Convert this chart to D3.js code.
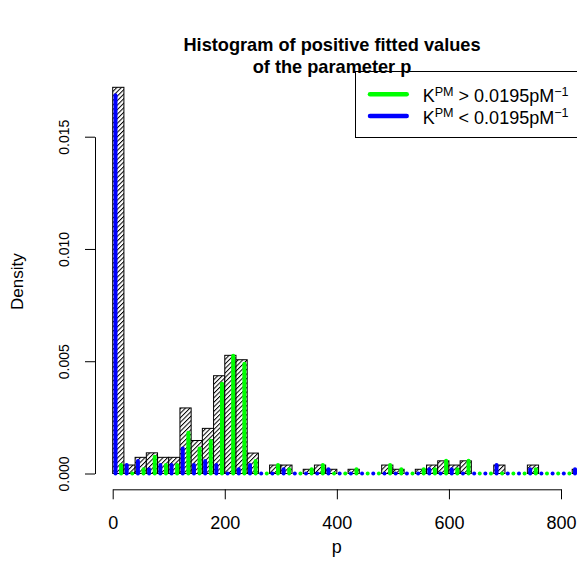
<!DOCTYPE html>
<html>
<head>
<meta charset="utf-8">
<script src="https://cdn.jsdelivr.net/npm/d3@7"></script>
<style>
  html, body { margin: 0; padding: 0; background: #fff; }
  svg { display: block; }
  text { font-family: "Liberation Sans", Arial, Helvetica, sans-serif; fill: #000; }
</style>
</head>
<body>
<svg id="chart" width="577" height="563"></svg>
<script>
// ---- data (bins of width 20 starting at p = 0) ----
const binWidth = 20;
const binStarts = d3.range(0, 840, 20); // 42 bins: 0..820
const totalDensity = [0.01720, 0.000378, 0.000720, 0.000920, 0.000720, 0.000720, 0.002920, 0.001470, 0.002010, 0.004355,
  0.005263, 0.005067, 0.000910, 0, 0.000376, 0.000376, 0, 0.000188, 0.000376, 0.000188,
  0, 0.000188, 0, 0, 0.000376, 0.000188, 0, 0.000188, 0.000376, 0.000564,
  0.000376, 0.000564, 0, 0, 0.000376, 0, 0, 0.000376, 0, 0, 0, 0.000188];
const greenDensity = [0.000376, 0, 0.000188, 0.000746, 0.000376, 0.000376, 0.001814, 0.001115, 0.001458, 0.003996,
  0.005243, 0.004886, 0.000554, 0, 0.000376, 0.000188, 0, 0.000188, 0.000376, 0,
  0, 0.000188, 0, 0, 0.000376, 0.000188, 0, 0.000188, 0.000188, 0.000564,
  0.000188, 0.000564, 0, 0, 0, 0, 0, 0.000188, 0, 0, 0, 0];
const blueDensity = [0.01685, 0.000376, 0.000554, 0.000188, 0.000376, 0.000376, 0.001115, 0.000376, 0.000554, 0.000376,
  0, 0.000188, 0.000376, 0, 0, 0.000188, 0, 0, 0, 0.000188,
  0, 0, 0, 0, 0, 0, 0, 0, 0.000188, 0,
  0.000188, 0, 0, 0, 0.000376, 0, 0, 0.000188, 0, 0, 0, 0.000188];
const xTicks = [0, 200, 400, 600, 800];
const yTicks = [0, 0.005, 0.010, 0.015];
const titleLines = ["Histogram of positive fitted values", "of the parameter p"];
const legendItems = [
  {color: "#00FF00", op: ">"},
  {color: "#0000FF", op: "<"}
];

// ---- layout ----
const svg = d3.select("#chart");
const x = d3.scaleLinear().domain([0, 800]).range([112.7, 561]);
const y = d3.scaleLinear().domain([0, 0.015]).range([473.5, 136.7]);

// hatch pattern
const defs = svg.append("defs");
const pat = defs.append("pattern")
  .attr("id", "hatch").attr("patternUnits", "userSpaceOnUse")
  .attr("width", 3.2).attr("height", 10)
  .attr("patternTransform", "rotate(45)");
pat.append("rect").attr("width", 3.2).attr("height", 10).attr("fill", "#fff");
pat.append("line").attr("x1", 0.5).attr("y1", 0).attr("x2", 0.5).attr("y2", 10)
  .attr("stroke", "#000").attr("stroke-width", 1);

// title
svg.append("g").selectAll("text").data(titleLines).join("text")
  .attr("x", 332).attr("y", (d, i) => 51 + i * 21.5)
  .attr("text-anchor", "middle").attr("font-size", 18.2).attr("font-weight", "bold")
  .text(d => d);

// histogram bars
svg.append("g").selectAll("rect")
  .data(binStarts.map((s, i) => ({s, d: totalDensity[i]})))
  .join("rect")
  .attr("x", d => x(d.s))
  .attr("y", d => y(d.d))
  .attr("width", d => x(d.s + binWidth) - x(d.s))
  .attr("height", d => y(0) - y(d.d))
  .attr("fill", "url(#hatch)")
  .attr("stroke", "#000").attr("stroke-width", 1);

// coloured vertical lines (type = "h")
function drawLines(vals, offset, color) {
  svg.append("g").selectAll("line")
    .data(binStarts.map((s, i) => ({p: s + offset, d: vals[i]})))
    .join("line")
    .attr("x1", d => x(d.p)).attr("x2", d => x(d.p))
    .attr("y1", y(0)).attr("y2", d => y(d.d))
    .attr("stroke", color).attr("stroke-width", 4)
    .attr("stroke-linecap", "round");
}
drawLines(blueDensity, 5, "#0000FF");
drawLines(greenDensity, 15, "#00FF00");

// x axis
const xAxis = d3.axisBottom(x).tickValues(xTicks).tickSize(10).tickSizeOuter(0).tickPadding(6);
const gx = svg.append("g").attr("transform", "translate(0,489.3)").call(xAxis);
gx.selectAll("text").attr("font-size", 18).attr("dy", null).attr("y", 40.2);
gx.selectAll("path,line").attr("stroke", "#000");

// y axis
const yAxis = d3.axisLeft(y).tickValues(yTicks).tickSize(10).tickSizeOuter(0).tickFormat(d3.format(".3f"));
const gy = svg.append("g").attr("transform", "translate(95,0)").call(yAxis);
gy.selectAll("path,line").attr("stroke", "#000");
gy.selectAll(".tick text")
  .attr("font-size", 14)
  .attr("text-anchor", "middle")
  .attr("x", null).attr("dy", null)
  .attr("transform", "translate(-26.5,0) rotate(-90)");

// axis titles
svg.append("text").attr("x", 336.7).attr("y", 553).attr("text-anchor", "middle")
  .attr("font-size", 18).text("p");
svg.append("text").attr("transform", "translate(22.5,281.7) rotate(-90)")
  .attr("text-anchor", "middle").attr("font-size", 17).text("Density");

// legend (transparent background, as in R)
const lg = svg.append("g");
lg.append("rect").attr("x", 355.5).attr("y", 71.5).attr("width", 260).attr("height", 66)
  .attr("fill", "none").attr("stroke", "#000").attr("stroke-width", 1);
legendItems.forEach((it, i) => {
  const cy = 94.3 + i * 21.7;
  lg.append("line").attr("x1", 370).attr("x2", 406.7).attr("y1", cy).attr("y2", cy)
    .attr("stroke", it.color).attr("stroke-width", 4.5).attr("stroke-linecap", "round");
  const t = lg.append("text").attr("x", 422.7).attr("y", cy + 8).attr("font-size", 18);
  t.append("tspan").text("K");
  t.append("tspan").attr("font-size", 12.6).attr("dy", -6.6).text("PM");
  t.append("tspan").attr("dy", 6.6).text(" " + it.op + " 0.0195pM");
  t.append("tspan").attr("font-size", 12.6).attr("dy", -6.6).text("\u22121");
});
</script>
</body>
</html>
